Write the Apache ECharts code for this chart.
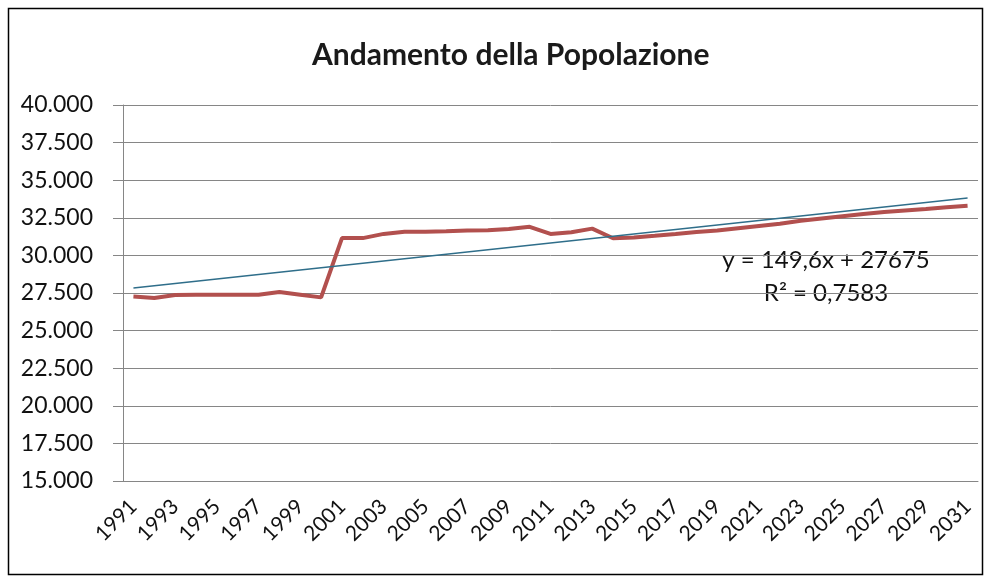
<!DOCTYPE html>
<html>
<head>
<meta charset="utf-8">
<script src="https://cdn.jsdelivr.net/npm/echarts@6/dist/echarts.min.js"></script>
<style>
html,body{margin:0;padding:0;background:#fff;}
#chart{width:991px;height:583px;}
</style>
</head>
<body>
<div id="chart"></div>
<script>
const years = ['1991','1992','1993','1994','1995','1996','1997','1998','1999','2000',
  '2001','2002','2003','2004','2005','2006','2007','2008','2009','2010',
  '2011','2012','2013','2014','2015','2016','2017','2018','2019','2020',
  '2021','2022','2023','2024','2025','2026','2027','2028','2029','2030','2031'];
const population = [27270,27170,27370,27380,27380,27380,27380,27570,27390,27210,
  31150,31150,31430,31570,31570,31600,31650,31670,31760,31900,
  31430,31540,31780,31140,31190,31300,31420,31550,31650,31800,
  31950,32100,32300,32450,32600,32750,32880,32980,33080,33200,33300];
const trendStart = 27825;
const trendEnd = 33809;
const yTicks = [15000,17500,20000,22500,25000,27500,30000,32500,35000,37500,40000];
const titleText = 'Andamento della Popolazione';
const eqText = 'y = 149,6x + 27675';
const r2Text = 'R² = 0,7583';

function fmt(v){
  return String(v).replace(/\B(?=(\d{3})+(?!\d))/g, '.');
}

const trend = years.map((y,i)=> i===0 ? trendStart : (i===years.length-1 ? trendEnd : null));

const chart = echarts.init(document.getElementById('chart'), null, {renderer:'canvas'});
chart.setOption({
  animation:false,
  backgroundColor:'#fff',
  title:{
    text:titleText, left:307, top:35,
    textStyle:{fontFamily:'Lato', fontSize:30, fontWeight:'bold', color:'#1a1a1a'}
  },
  grid:{left:123, right:13, top:105, bottom:102, containLabel:false},
  xAxis:{
    type:'category', data:years, boundaryGap:true,
    axisLine:{lineStyle:{color:'#868686', width:1}},
    axisTick:{interval:0, inside:true, length:7, lineStyle:{color:'#868686'}},
    axisLabel:{interval:1, rotate:45, margin:22, fontFamily:'Lato', fontSize:21, color:'#111'},
    splitLine:{show:false}
  },
  yAxis:{
    type:'value', min:yTicks[0], max:yTicks[yTicks.length-1], interval:2500,
    axisLine:{show:true, lineStyle:{color:'#868686', width:1}},
    axisTick:{show:true, length:10, lineStyle:{color:'#868686'}},
    axisLabel:{margin:30, fontFamily:'Lato', fontSize:23, color:'#111', formatter:fmt},
    splitLine:{lineStyle:{color:'#868686', width:1}}
  },
  series:[
    {type:'line', data:population, symbol:'none', lineStyle:{color:'#B2504E', width:4}, z:2},
    {type:'line', data:trend, connectNulls:true, symbol:'none', lineStyle:{color:'#2F6E8A', width:1.5}, z:3}
  ],
  graphic:[
    {type:'rect', shape:{x:8.5, y:8.5, width:974, height:566}, style:{fill:'none', stroke:'#000', lineWidth:1.5}, silent:true},
    {type:'text', x:826, y:260, style:{text:eqText, fontFamily:'Lato', fontSize:24, fill:'#111', textAlign:'center', textVerticalAlign:'middle'}},
    {type:'text', x:826, y:293, style:{text:r2Text, fontFamily:'Lato', fontSize:24, fill:'#111', textAlign:'center', textVerticalAlign:'middle'}}
  ]
});
</script>
</body>
</html>
